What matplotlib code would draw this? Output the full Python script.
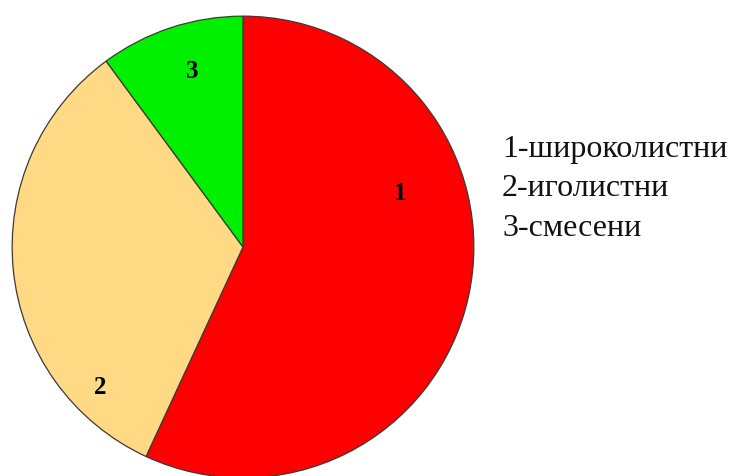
import matplotlib
matplotlib.use("Agg")
import matplotlib.pyplot as plt

# Forest composition by type
categories = ["1", "2", "3"]
shares = [56.9, 33.0, 10.1]
legend_labels = ["1-широколистни", "2-иголистни", "3-смесени"]
colors = ["#FF0000", "#FFD983", "#00F000"]

# label anchor offsets inside the unit circle
label_xy = [(0.68, 0.23), (-0.62, -0.61), (-0.22, 0.76)]

W, H = 733, 476
fig = plt.figure(figsize=(W / 100, H / 100), dpi=100)

cx, cy, r = 243, 229, 232  # pixel centre (from bottom) and radius
ax = fig.add_axes([(cx - r) / W, (cy - r) / H, 2 * r / W, 2 * r / H])
ax.pie(shares, colors=colors, startangle=90, counterclock=False, radius=1.0,
       wedgeprops=dict(edgecolor="#3a3a3a", linewidth=0.9))
ax.set_xlim(-1.005, 1.005)
ax.set_ylim(-1.005, 1.005)
ax.set_aspect("equal")
ax.axis("off")

for lab, (x, y) in zip(categories, label_xy):
    ax.text(x, y, lab, ha="center", va="center", fontsize=18,
            fontweight="bold", family="Liberation Serif", color="black")

ys = [150, 189, 228]
for txt, y in zip(legend_labels, ys):
    fig.text(502 / W, 1 - y / H, txt, ha="left", va="center", fontsize=23,
             family="Liberation Serif", color="#111111")

fig.savefig("out.png", dpi=100)
